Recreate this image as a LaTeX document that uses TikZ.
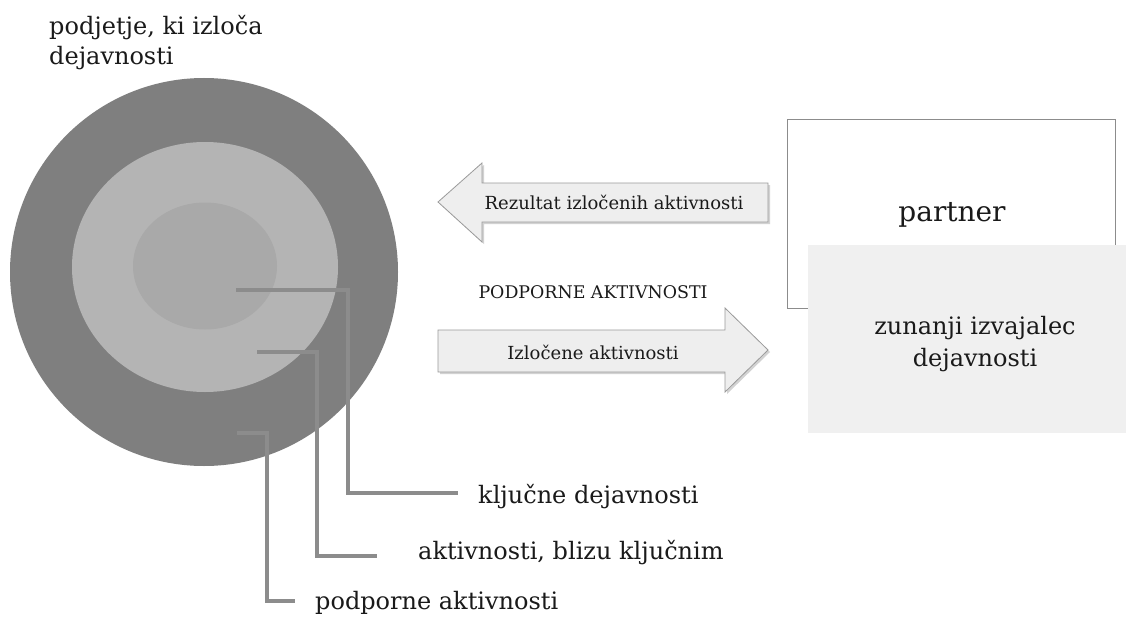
\documentclass[tikz,border=0pt]{standalone}
\usepackage{fontspec}
\setmainfont{DejaVu Serif}
\usetikzlibrary{shapes.geometric,shadows}
\definecolor{ringdark}{HTML}{7F7F7F}
\definecolor{ringmid}{HTML}{B4B4B4}
\definecolor{ringcore}{HTML}{A9A9A9}
\definecolor{leadgray}{HTML}{8C8C8C}
\definecolor{arrowfill}{HTML}{EEEEEE}
\definecolor{arrowline}{HTML}{9A9A9A}
\definecolor{boxfill}{HTML}{F0F0F0}
\definecolor{txt}{HTML}{1A1A1A}
\tikzset{
  leader/.style={draw=leadgray, line width=3.6pt},
  leadershadow/.style={draw=black, opacity=0.16, line width=4pt, shift={(1.8,1.8)}},
  fatarrow/.style={fill=arrowfill, draw=arrowline, line width=0.8pt, drop shadow={shadow xshift=2pt, shadow yshift=-2pt, opacity=0.35}},
  lbl/.style={text=txt, inner sep=0pt, font=\fontsize{24}{30}\selectfont},
  small/.style={text=txt, inner sep=0pt, font=\fontsize{18}{22}\selectfont}
}
\begin{document}
\begin{tikzpicture}[x=1pt,y=-1pt]
\useasboundingbox (0,0) rectangle (1126,623);
\fill[white] (0,0) rectangle (1126,623);

% title
\node[lbl, anchor=west, align=left, font=\fontsize{24}{30}\selectfont] (title) at (49,43) {podjetje, ki izloča\\dejavnosti};

% rings
\node[circle, fill=ringdark, minimum size=388pt, inner sep=0pt] (outer) at (204,272) {};
\node[ellipse, fill=ringmid, minimum width=266pt, minimum height=250pt, inner sep=0pt] (middle) at (205,267) {};
\node[ellipse, fill=ringcore, minimum width=144pt, minimum height=127pt, inner sep=0pt] (core) at (205,266) {};

% leader lines
\coordinate (k1) at (236,290);
\coordinate (k2) at (348,493);
\coordinate (k3) at (458,493);
\coordinate (a1) at (257,352);
\coordinate (a2) at (317,556);
\coordinate (a3) at (377,556);
\coordinate (p1) at (237,433);
\coordinate (p2) at (267,601);
\coordinate (p3) at (295,601);
\draw[leadershadow] (k1) -| (k2) -- (k3);
\draw[leadershadow] (a1) -| (a2) -- (a3);
\draw[leadershadow] (p1) -| (p2) -- (p3);
\draw[leader] (k1) -| (k2) -- (k3);
\draw[leader] (a1) -| (a2) -- (a3);
\draw[leader] (p1) -| (p2) -- (p3);

\node[lbl, anchor=west] (klj) at (478,497) {ključne dejavnosti};
\node[lbl, anchor=west] (blizu) at (418,553) {aktivnosti, blizu ključnim};
\node[lbl, anchor=west] (podp) at (315,603) {podporne aktivnosti};

% partner boxes
\node[draw=leadgray, line width=1pt, minimum width=328pt, minimum height=188pt, inner sep=0pt] (partner) at (951,214) {};
\node[lbl, font=\fontsize{28}{30}\selectfont] (partnertxt) at (952,215) {partner};
\node[fill=boxfill, minimum width=318pt, minimum height=188pt, inner sep=0pt] (zunanji) at (967,339) {};
\node[lbl, align=center, font=\fontsize{24}{32}\selectfont] (zuntxt) at (975,344) {zunanji izvajalec\\dejavnosti};

% arrows
\draw[fatarrow] (438,202) -- (482,163) -- (482,183) -- (768,183) -- (768,222) -- (482,222) -- (482,242) -- cycle;
\node[small] (rez) at (614,202) {Rezultat izločenih aktivnosti};
\node[small, font=\fontsize{17.4}{22}\selectfont] (pa) at (593,292) {PODPORNE AKTIVNOSTI};
\draw[fatarrow] (438,330) -- (725,330) -- (725,308) -- (768,350) -- (725,392) -- (725,372) -- (438,372) -- cycle;
\node[small] (izl) at (593,352) {Izločene aktivnosti};
\end{tikzpicture}
\end{document}
